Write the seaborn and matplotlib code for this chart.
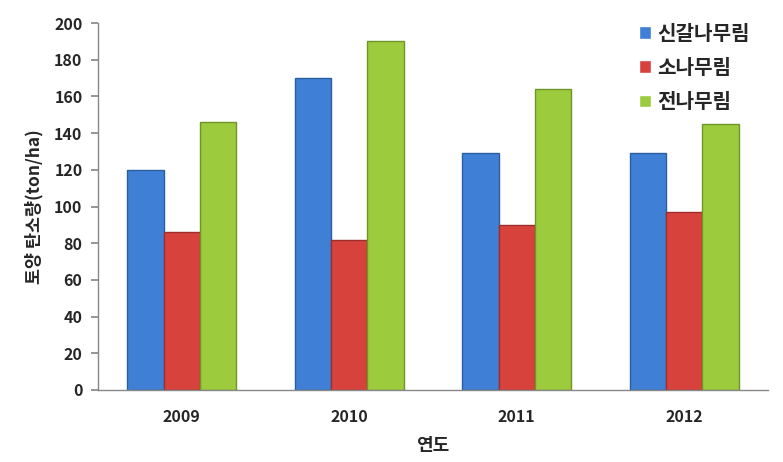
import matplotlib
matplotlib.use("Agg")
import matplotlib.pyplot as plt
import seaborn as sns
import pandas as pd

years = ["2009", "2010", "2011", "2012"]
series = ["신갈나무림", "소나무림", "전나무림"]
oak = [120, 170, 129, 129]
pine = [86, 82, 90, 97]
fir = [146, 190, 164, 145]
yticks = list(range(0, 201, 20))

rows = []
for i, y in enumerate(years):
    for s, vals in zip(series, [oak, pine, fir]):
        rows.append({"year": y, "forest": s, "value": vals[i]})
df = pd.DataFrame(rows)

sns.set_theme(style="white")
plt.rcParams['font.family'] = ['Noto Sans CJK KR', 'DejaVu Sans']

colors = ["#3f80d6", "#d8423d", "#9ccb3d"]
edges = ["#2b5e9e", "#9e2e2b", "#6f9428"]

fig = plt.figure(figsize=(7.83, 4.62), dpi=100)
ax = fig.add_axes([0.125, 0.156, 0.856, 0.794])
sns.barplot(data=df, x="year", y="value", hue="forest", palette=colors,
            width=0.65, ax=ax, saturation=1, legend=True)

for cont, ec in zip(ax.containers, edges):
    for p in cont:
        p.set_edgecolor(ec)
        p.set_linewidth(1.0)

ax.set_ylim(0, 200)
ax.set_xlim(-0.5, 3.5)
ax.set_yticks(yticks)
ax.set_yticklabels([str(v) for v in yticks], fontsize=11.5, fontweight="bold")
ax.set_xticks(range(4))
ax.set_xticklabels(years, fontsize=11.5, fontweight="bold")
ax.tick_params(axis="x", which="major", length=0, pad=14)
ax.set_xticks([-0.5, 0.5, 1.5, 2.5, 3.5], minor=True)
ax.tick_params(axis="x", which="minor", length=5, color="#888888", direction="out")
ax.tick_params(axis="y", length=5, color="#888888", direction="out", left=True, pad=6)

for s in ["top", "right"]:
    ax.spines[s].set_visible(False)
for s in ["left", "bottom"]:
    ax.spines[s].set_color("#888888")
    ax.spines[s].set_linewidth(1.0)

ax.set_xlabel("연도", fontsize=13, fontweight="bold", labelpad=8)
ax.set_ylabel("토양 탄소량(ton/ha)", fontsize=12.5, fontweight="bold", labelpad=8)

leg = ax.legend(loc="upper right", bbox_to_anchor=(1.0, 1.05), frameon=False,
                prop={"size": 14.5, "weight": "bold"}, handlelength=0.6,
                handleheight=0.6, handletextpad=0.3, labelspacing=0.65)

fig.savefig("out.png", dpi=100)
